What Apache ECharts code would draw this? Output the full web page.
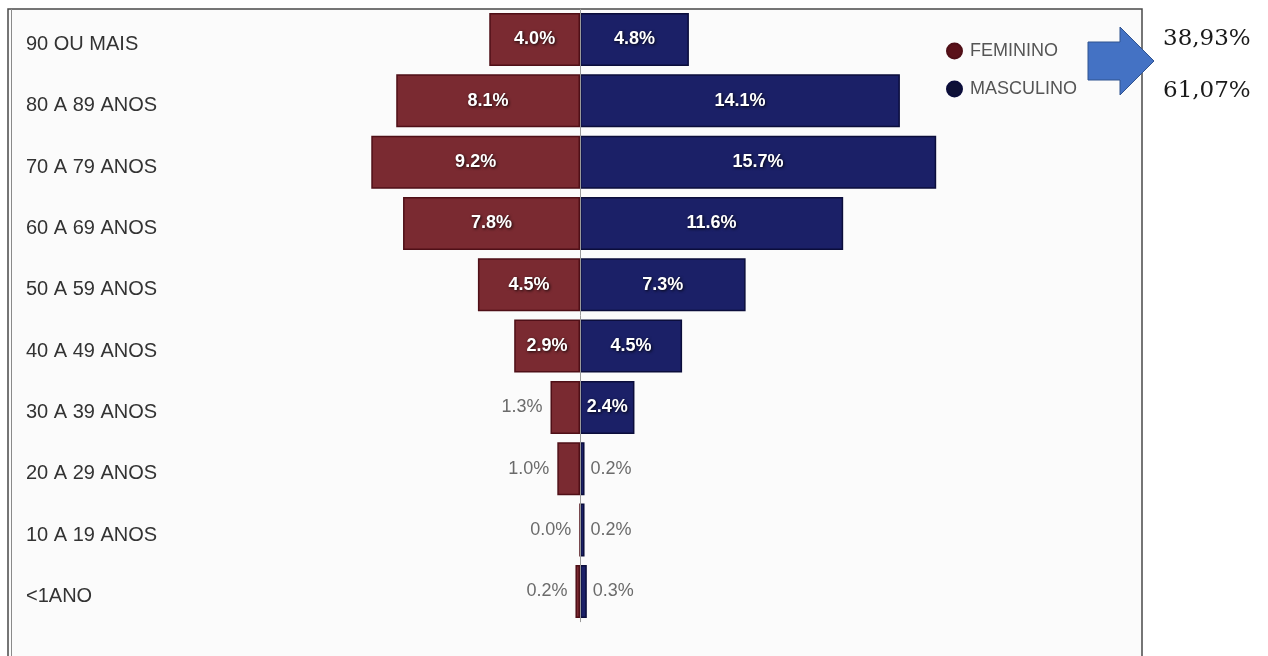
<!DOCTYPE html>
<html>
<head>
<meta charset="utf-8">
<script src="https://cdn.jsdelivr.net/npm/echarts@6/dist/echarts.min.js"></script>
<style>
html,body{margin:0;padding:0;background:#fff;}
#chart{width:1268px;height:656px;}
</style>
</head>
<body>
<div id="chart"></div>
<script>
const categories = ["90 OU MAIS","80 A 89 ANOS","70 A 79 ANOS","60 A 69 ANOS","50 A 59 ANOS","40 A 49 ANOS","30 A 39 ANOS","20 A 29 ANOS","10 A 19 ANOS","<1ANO"];
const feminino = [4.0, 8.1, 9.2, 7.8, 4.5, 2.9, 1.3, 1.0, 0.0, 0.2];
const masculino = [4.8, 14.1, 15.7, 11.6, 7.3, 4.5, 2.4, 0.2, 0.2, 0.3];
const seriesNames = ["FEMININO", "MASCULINO"];
const totals = ["38,93%", "61,07%"];

const fmt = v => Math.abs(v).toFixed(1) + '%';
const insideLabel = {
  show: true, position: 'inside', color: '#ffffff', fontFamily: 'Liberation Sans, Arial, sans-serif',
  fontWeight: 'bold', fontSize: 18,
  textShadowColor: 'rgba(0,0,0,0.85)', textShadowBlur: 3, textShadowOffsetX: 1, textShadowOffsetY: 1,
  formatter: p => fmt(p.value)
};
function outsideLabel(pos) {
  return {
    show: true, position: pos, distance: pos === 'left' ? 8 : 6, color: '#6b6b6b',
    fontFamily: 'Liberation Sans, Arial, sans-serif', fontWeight: 'normal', fontSize: 18,
    textShadowBlur: 0, formatter: p => fmt(p.value)
  };
}
function buildData(values, sign, outPos) {
  return values.map(v => ({
    value: sign * v,
    label: v >= 2 ? insideLabel : outsideLabel(outPos)
  }));
}

const chart = echarts.init(document.getElementById('chart'));
chart.setOption({
  animation: false,
  graphic: [
    { type: 'rect', z: -10, silent: true, shape: { x: 8, y: 9, width: 1134, height: 670 },
      style: { fill: '#fbfbfb', stroke: '#4a4a4a', lineWidth: 1.5 } },
    { type: 'line', z: -9, silent: true, shape: { x1: 11.5, y1: 9, x2: 11.5, y2: 680 },
      style: { stroke: '#8a8a8a', lineWidth: 1 } },
    { type: 'polygon', silent: true,
      shape: { points: [[1088, 42], [1120, 42], [1120, 27], [1154, 61], [1120, 95], [1120, 80], [1088, 80]] },
      style: { fill: '#4472C4', stroke: '#2F528F', lineWidth: 1 } },
    { type: 'text', silent: true, left: 1163, top: 28,
      style: { text: totals[0], fill: '#1a1a1a', font: '23px "DejaVu Serif", serif' } },
    { type: 'text', silent: true, left: 1163, top: 80,
      style: { text: totals[1], fill: '#1a1a1a', font: '23px "DejaVu Serif", serif' } }
  ],
  legend: {
    orient: 'vertical', left: 946, top: 42, padding: 0, itemWidth: 15, itemHeight: 15, itemGap: 20,
    icon: 'circle',
    textStyle: { color: '#555', fontSize: 18, fontFamily: 'Liberation Sans, Arial, sans-serif', padding: [0, 0, 0, 3] },
    data: [
      { name: seriesNames[0], itemStyle: { color: '#5a1119' } },
      { name: seriesNames[1], itemStyle: { color: '#0e1036' } }
    ]
  },
  grid: { left: 217, width: 726, top: 8.8, height: 613.3, containLabel: false },
  xAxis: {
    type: 'value', min: -16, max: 16, show: false
  },
  yAxis: {
    type: 'category', inverse: true, data: categories,
    axisLine: { show: false }, axisTick: { show: false }, splitLine: { show: false },
    axisLabel: {
      align: 'left', margin: 191, color: '#333', fontSize: 20,
      fontFamily: 'Liberation Sans, Arial, sans-serif', verticalAlign: 'top', lineHeight: 10
    }
  },
  series: [
    {
      name: seriesNames[0], type: 'bar', barWidth: 53, barGap: '-100%',
      itemStyle: { color: '#7a2a31', borderColor: '#4f0f17', borderWidth: 1.5 },
      data: buildData(feminino, -1, 'left'),
      markLine: {
        silent: true, symbol: 'none', label: { show: false },
        lineStyle: { color: '#9a9a9a', width: 1, type: 'solid' },
        data: [{ xAxis: 0 }]
      },
      z: 3
    },
    {
      name: seriesNames[1], type: 'bar', barWidth: 53, barGap: '-100%',
      itemStyle: { color: '#1b2067', borderColor: '#0b0d3b', borderWidth: 1.5 },
      data: buildData(masculino, 1, 'right'),
      z: 3
    }
  ]
});
</script>
</body>
</html>
